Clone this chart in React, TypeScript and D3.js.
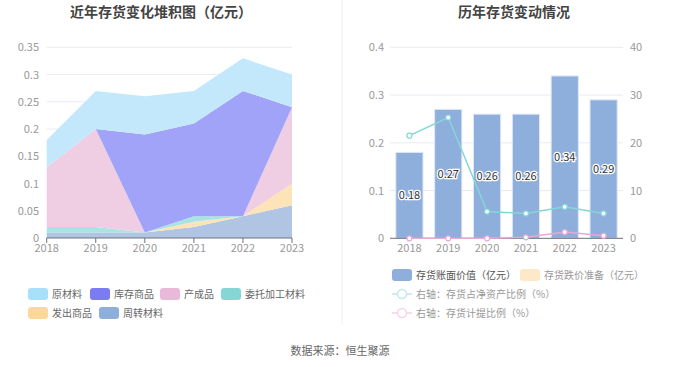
import * as d3 from 'd3';

const years = ['2018', '2019', '2020', '2021', '2022', '2023'];

// stacked area series, bottom to top
const zhouzhuan = [0.01, 0.01, 0.01, 0.02, 0.04, 0.06];
const fachu = [0, 0, 0, 0.01, 0, 0.04];
const weituo = [0.01, 0.01, 0, 0.01, 0, 0];
const chanchengpin = [0.11, 0.18, 0, 0, 0, 0.14];
const kucun = [0, 0, 0.18, 0.17, 0.23, 0];
const yuancailiao = [0.05, 0.07, 0.07, 0.06, 0.06, 0.06];

// right chart
const bookValue = [0.18, 0.27, 0.26, 0.26, 0.34, 0.29];
const impairment = [0, 0, 0, 0, 0, 0];
const ratioNetAsset = [21.5, 25.3, 5.6, 5.2, 6.6, 5.2];
const ratioProvision = [0, 0, 0, 0.2, 1.3, 0.55];

const leftTicks = [0, 0.05, 0.1, 0.15, 0.2, 0.25, 0.3, 0.35];
const rightTicks = [0, 0.1, 0.2, 0.3, 0.4];
const rightTicks2 = [0, 10, 20, 30, 40];

const FONT = '"Noto Sans CJK SC", "Noto Sans", sans-serif';

const areaSeries = [
  { name: '周转材料', values: zhouzhuan, legend: '#8eaedc', fill: '#b0c4e4' },
  { name: '发出商品', values: fachu, legend: '#ffd899', fill: '#fde3b8' },
  { name: '委托加工材料', values: weituo, legend: '#86d6d6', fill: '#a8e4e2' },
  { name: '产成品', values: chanchengpin, legend: '#e8b9d8', fill: '#efcde3' },
  { name: '库存商品', values: kucun, legend: '#7b7bf2', fill: '#a0a3f7' },
  { name: '原材料', values: yuancailiao, legend: '#a8dffa', fill: '#c4e8fb' },
];

const leftLegend = [
  { name: '原材料', x: 28, y: 294 },
  { name: '库存商品', x: 90, y: 294 },
  { name: '产成品', x: 160, y: 294 },
  { name: '委托加工材料', x: 221, y: 294 },
  { name: '发出商品', x: 28, y: 313 },
  { name: '周转材料', x: 99, y: 313 },
];

function LeftChart() {
  const x = d3.scalePoint<string>().domain(years).range([46.7, 292]);
  const y = d3.scaleLinear().domain([0, 0.35]).range([238, 47.3]);
  const rows = years.map((yr, i) => {
    const r: any = { year: yr };
    areaSeries.forEach((s) => (r[s.name] = s.values[i]));
    return r;
  });
  const stack = d3.stack<any>().keys(areaSeries.map((s) => s.name))(rows);
  const area = d3
    .area<any>()
    .x((d) => x(d.data.year)!)
    .y0((d) => y(d[0]))
    .y1((d) => y(d[1]));

  return (
    <g>
      {leftTicks.slice(1).map((t) => (
        <line key={t} x1={46.7} x2={292} y1={y(t)} y2={y(t)} stroke="#e8ebf3" />
      ))}
      {stack.map((layer, i) => (
        <path key={layer.key} d={area(layer as any)!} fill={areaSeries[i].fill} />
      ))}
      <line x1={46.7} x2={292} y1={238} y2={238} stroke="#6e7079" />
      {years.map((yr) => (
        <g key={yr}>
          <line x1={x(yr)} x2={x(yr)} y1={238} y2={243} stroke="#6e7079" />
          <text x={x(yr)} y={252} textAnchor="middle" fontSize={11} fill="#999">
            {yr}
          </text>
        </g>
      ))}
      {leftTicks.map((t) => (
        <text key={t} x={39} y={y(t) + 4} textAnchor="end" fontSize={11} fill="#999">
          {String(t)}
        </text>
      ))}
      {leftLegend.map((l) => {
        const s = areaSeries.find((a) => a.name === l.name)!;
        return (
          <g key={l.name}>
            <rect x={l.x} y={l.y - 6} width={20} height={12} rx={3} fill={s.legend} />
            <text x={l.x + 24} y={l.y + 4} fontSize={10} fill="#666">
              {l.name}
            </text>
          </g>
        );
      })}
    </g>
  );
}

function RightChart() {
  const x = d3.scaleBand<string>().domain(years).range([390, 623]).paddingInner(0.3).paddingOuter(0.15);
  const xc = (yr: string) => x(yr)! + x.bandwidth() / 2;
  const y = d3.scaleLinear().domain([0, 0.4]).range([238.3, 47.3]);
  const y2 = d3.scaleLinear().domain([0, 40]).range([238.3, 47.3]);
  const line = d3
    .line<number>()
    .x((_, i) => xc(years[i]))
    .y((d) => y2(d));

  return (
    <g>
      {rightTicks.slice(1).map((t) => (
        <line key={t} x1={390} x2={623} y1={y(t)} y2={y(t)} stroke="#e8ebf3" />
      ))}
      {bookValue.map((v, i) => (
        <rect
          key={i}
          x={x(years[i])}
          y={y(v)}
          width={x.bandwidth()}
          height={y(0) - y(v)}
          fill="#8eaedc"
          stroke="#dfe8f6"
          strokeWidth={1}
        />
      ))}
      {impairment.map((v, i) => (
        <rect key={'im' + i} x={x(years[i])} y={y(v)} width={x.bandwidth()} height={y(0) - y(v)} fill="#fde8c8" />
      ))}
      <line x1={390} x2={623} y1={238.3} y2={238.3} stroke="#6e7079" />
      {years.map((yr) => (
        <text key={yr} x={xc(yr)} y={252} textAnchor="middle" fontSize={11} fill="#999">
          {yr}
        </text>
      ))}
      <path d={line(ratioNetAsset)!} fill="none" stroke="#86d6d8" strokeWidth={1.5} />
      {ratioNetAsset.map((v, i) => (
        <circle key={i} cx={xc(years[i])} cy={y2(v)} r={2.5} fill="#fff" stroke="#86d6d8" strokeWidth={1.2} />
      ))}
      <path d={line(ratioProvision)!} fill="none" stroke="#eaa6d4" strokeWidth={1.5} />
      {ratioProvision.map((v, i) => (
        <circle key={i} cx={xc(years[i])} cy={y2(v)} r={2.5} fill="#fff" stroke="#eaa6d4" strokeWidth={1.2} />
      ))}
      {bookValue.map((v, i) => (
        <text
          key={'l' + i}
          x={xc(years[i])}
          y={(y(v) + y(0)) / 2 + 4}
          textAnchor="middle"
          fontSize={11}
          fill="#333"
          stroke="#fff"
          strokeWidth={2.5}
          paintOrder="stroke"
        >
          {v.toFixed(2)}
        </text>
      ))}
      {rightTicks.map((t) => (
        <text key={t} x={384} y={y(t) + 4} textAnchor="end" fontSize={11} fill="#999">
          {String(t)}
        </text>
      ))}
      {rightTicks2.map((t) => (
        <text key={t} x={630} y={y2(t) + 4} textAnchor="start" fontSize={11} fill="#999">
          {String(t)}
        </text>
      ))}
      {/* legend */}
      <rect x={392} y={269} width={20} height={12} rx={3} fill="#8eaedc" />
      <text x={416} y={279} fontSize={10} fill="#555">存货账面价值（亿元）</text>
      <rect x={520} y={269} width={20} height={12} rx={3} fill="#fde8c8" />
      <text x={544} y={279} fontSize={10} fill="#999">存货跌价准备（亿元）</text>
      <line x1={392} x2={412} y1={294} y2={294} stroke="#bfe9ec" strokeWidth={1.5} />
      <circle cx={402} cy={294} r={4.5} fill="#fff" stroke="#bfe9ec" strokeWidth={1.5} />
      <text x={416} y={298} fontSize={10} fill="#999">右轴：存货占净资产比例（%）</text>
      <line x1={392} x2={412} y1={313} y2={313} stroke="#f5d3ea" strokeWidth={1.5} />
      <circle cx={402} cy={313} r={4.5} fill="#fff" stroke="#f5d3ea" strokeWidth={1.5} />
      <text x={416} y={317} fontSize={10} fill="#999">右轴：存货计提比例（%）</text>
    </g>
  );
}

export default function App() {
  return (
    <svg width={680} height={367} style={{ display: 'block', position: 'absolute', left: 0, top: 0, fontFamily: FONT }}>
      <rect width={680} height={367} fill="#fff" />
      <text x={161} y={17} textAnchor="middle" fontSize={14} fontWeight="bold" fill="#444">
        近年存货变化堆积图（亿元）
      </text>
      <text x={514} y={17} textAnchor="middle" fontSize={14} fontWeight="bold" fill="#444">
        历年存货变动情况
      </text>
      <line x1={342} x2={342} y1={0} y2={325} stroke="#f0f0f0" />
      <LeftChart />
      <RightChart />
      <text x={340} y={355} textAnchor="middle" fontSize={11} fill="#666">
        数据来源：恒生聚源
      </text>
    </svg>
  );
}
